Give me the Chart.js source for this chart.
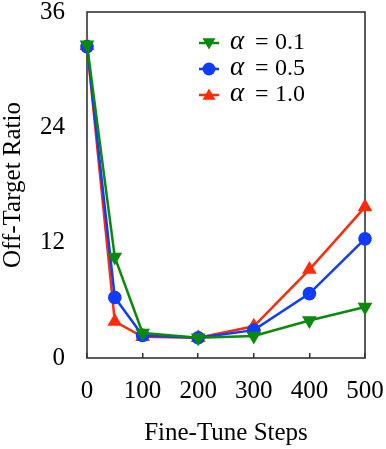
<!DOCTYPE html>
<html>
<head>
<meta charset="utf-8">
<script src="https://cdn.jsdelivr.net/npm/chart.js@4/dist/chart.umd.min.js"></script>
<style>
  html, body { margin: 0; padding: 0; background: #fff; }
  #wrap { width: 386px; height: 449px; }
</style>
</head>
<body>
<div id="wrap"><canvas id="c" width="386" height="449"></canvas></div>
<script>
const steps = [0, 50, 100, 200, 300, 400, 500];
const alphaLabels = ['0.1', '0.5', '1.0'];
const ratioAlpha01 = [32.6, 10.5, 2.6, 2.1, 2.3, 3.9, 5.3];
const ratioAlpha05 = [32.4, 6.3, 2.35, 2.1, 2.9, 6.7, 12.4];
const ratioAlpha10 = [32.5, 3.8, 2.2, 2.1, 3.3, 9.2, 15.7];
const yTicks = [0, 12, 24, 36];
const xTicks = [0, 100, 200, 300, 400, 500];

const colors = ['#0a8a0a', '#0f3cff', '#ff2a0a'];
const SERIF = '"Liberation Serif", "Times New Roman", serif';

function pts(arr) { return steps.map((s, i) => ({ x: s, y: arr[i] })); }

const datasets = [
  { label: 'α = ' + alphaLabels[0], data: pts(ratioAlpha01), borderColor: colors[0], backgroundColor: colors[0],
    pointStyle: 'triangle', rotation: 180, pointRadius: 8.5 },
  { label: 'α = ' + alphaLabels[1], data: pts(ratioAlpha05), borderColor: colors[1], backgroundColor: colors[1],
    pointStyle: 'circle', rotation: 0, pointRadius: 6.8 },
  { label: 'α = ' + alphaLabels[2], data: pts(ratioAlpha10), borderColor: colors[2], backgroundColor: colors[2],
    pointStyle: 'triangle', rotation: 0, pointRadius: 8.5 }
].map(d => Object.assign(d, { borderWidth: 2.5, pointBorderWidth: 0, tension: 0, clip: false, pointHoverRadius: d.pointRadius }));

function zeroPad(s) { s.paddingTop = 0; s.paddingBottom = 0; s.paddingLeft = 0; s.paddingRight = 0; }

const framePlugin = {
  id: 'frame',
  beforeDatasetsDraw(chart) {
    const { ctx, chartArea: a } = chart;
    ctx.save();
    ctx.strokeStyle = '#333';
    ctx.lineWidth = 1.6;
    ctx.strokeRect(a.left, a.top, a.right - a.left, a.bottom - a.top);
    ctx.restore();
  }
};

const legendPlugin = {
  id: 'inLegend',
  afterDatasetsDraw(chart) {
    const { ctx, chartArea: a } = chart;
    ctx.save();
    chart.data.datasets.forEach((ds, i) => {
      const cy = a.top + 31 + i * 26;
      const mx = a.left + 122;
      ctx.strokeStyle = ds.borderColor;
      ctx.lineWidth = 2.5;
      ctx.beginPath();
      ctx.moveTo(mx - 10, cy);
      ctx.lineTo(mx + 10, cy);
      ctx.stroke();
      ctx.fillStyle = ds.backgroundColor;
      Chart.helpers.drawPoint(ctx, {
        pointStyle: ds.pointStyle, rotation: ds.rotation,
        radius: ds.pointStyle === 'circle' ? 6.5 : 7.5, borderWidth: 0
      }, mx, cy + (ds.pointStyle === 'triangle' ? (ds.rotation ? -1 : 1) : 0));
      ctx.fillStyle = '#000';
      ctx.textBaseline = 'middle';
      ctx.textAlign = 'left';
      ctx.font = 'italic 27px ' + SERIF;
      const tx = mx + 21;
      ctx.fillText('α', tx, cy - 1);
      ctx.font = '24px ' + SERIF;
      ctx.fillText('=', tx + 25, cy);
      ctx.fillText(alphaLabels[i], tx + 45, cy);
    });
    ctx.restore();
  }
};

new Chart(document.getElementById('c'), {
  type: 'line',
  data: { datasets },
  options: {
    responsive: false,
    animation: false,
    devicePixelRatio: 1,
    layout: { padding: { top: 12, right: 21, left: 0, bottom: 0 } },
    plugins: { legend: { display: false }, tooltip: { enabled: false } },
    scales: {
      x: {
        type: 'linear', min: 0, max: 500,
        afterBuildTicks(s) { s.ticks = xTicks.map(v => ({ value: v })); },
        afterFit(s) { s.height = 91; zeroPad(s); },
        grid: { drawOnChartArea: false, drawTicks: true, tickLength: -5, color: '#333', lineWidth: 1.5 },
        border: { display: false },
        ticks: { color: '#000', padding: 26, maxRotation: 0, font: { family: SERIF, size: 25, lineHeight: 1 } },
        title: { display: true, text: 'Fine-Tune Steps', color: '#000', padding: { top: 0, bottom: 1 },
                 font: { family: SERIF, size: 25, lineHeight: 1.2 } }
      },
      y: {
        min: 0, max: 36,
        afterBuildTicks(s) { s.ticks = yTicks.map(v => ({ value: v })); },
        afterFit(s) { s.width = 87; zeroPad(s); },
        grid: { display: false, drawTicks: false },
        border: { display: false },
        ticks: { color: '#000', padding: 22, font: { family: SERIF, size: 25, lineHeight: 1 } },
        title: { display: true, text: 'Off-Target Ratio', color: '#000', padding: { top: 0, bottom: 0 },
                 font: { family: SERIF, size: 25, lineHeight: 1.1 } }
      }
    }
  },
  plugins: [framePlugin, legendPlugin]
});
</script>
</body>
</html>
